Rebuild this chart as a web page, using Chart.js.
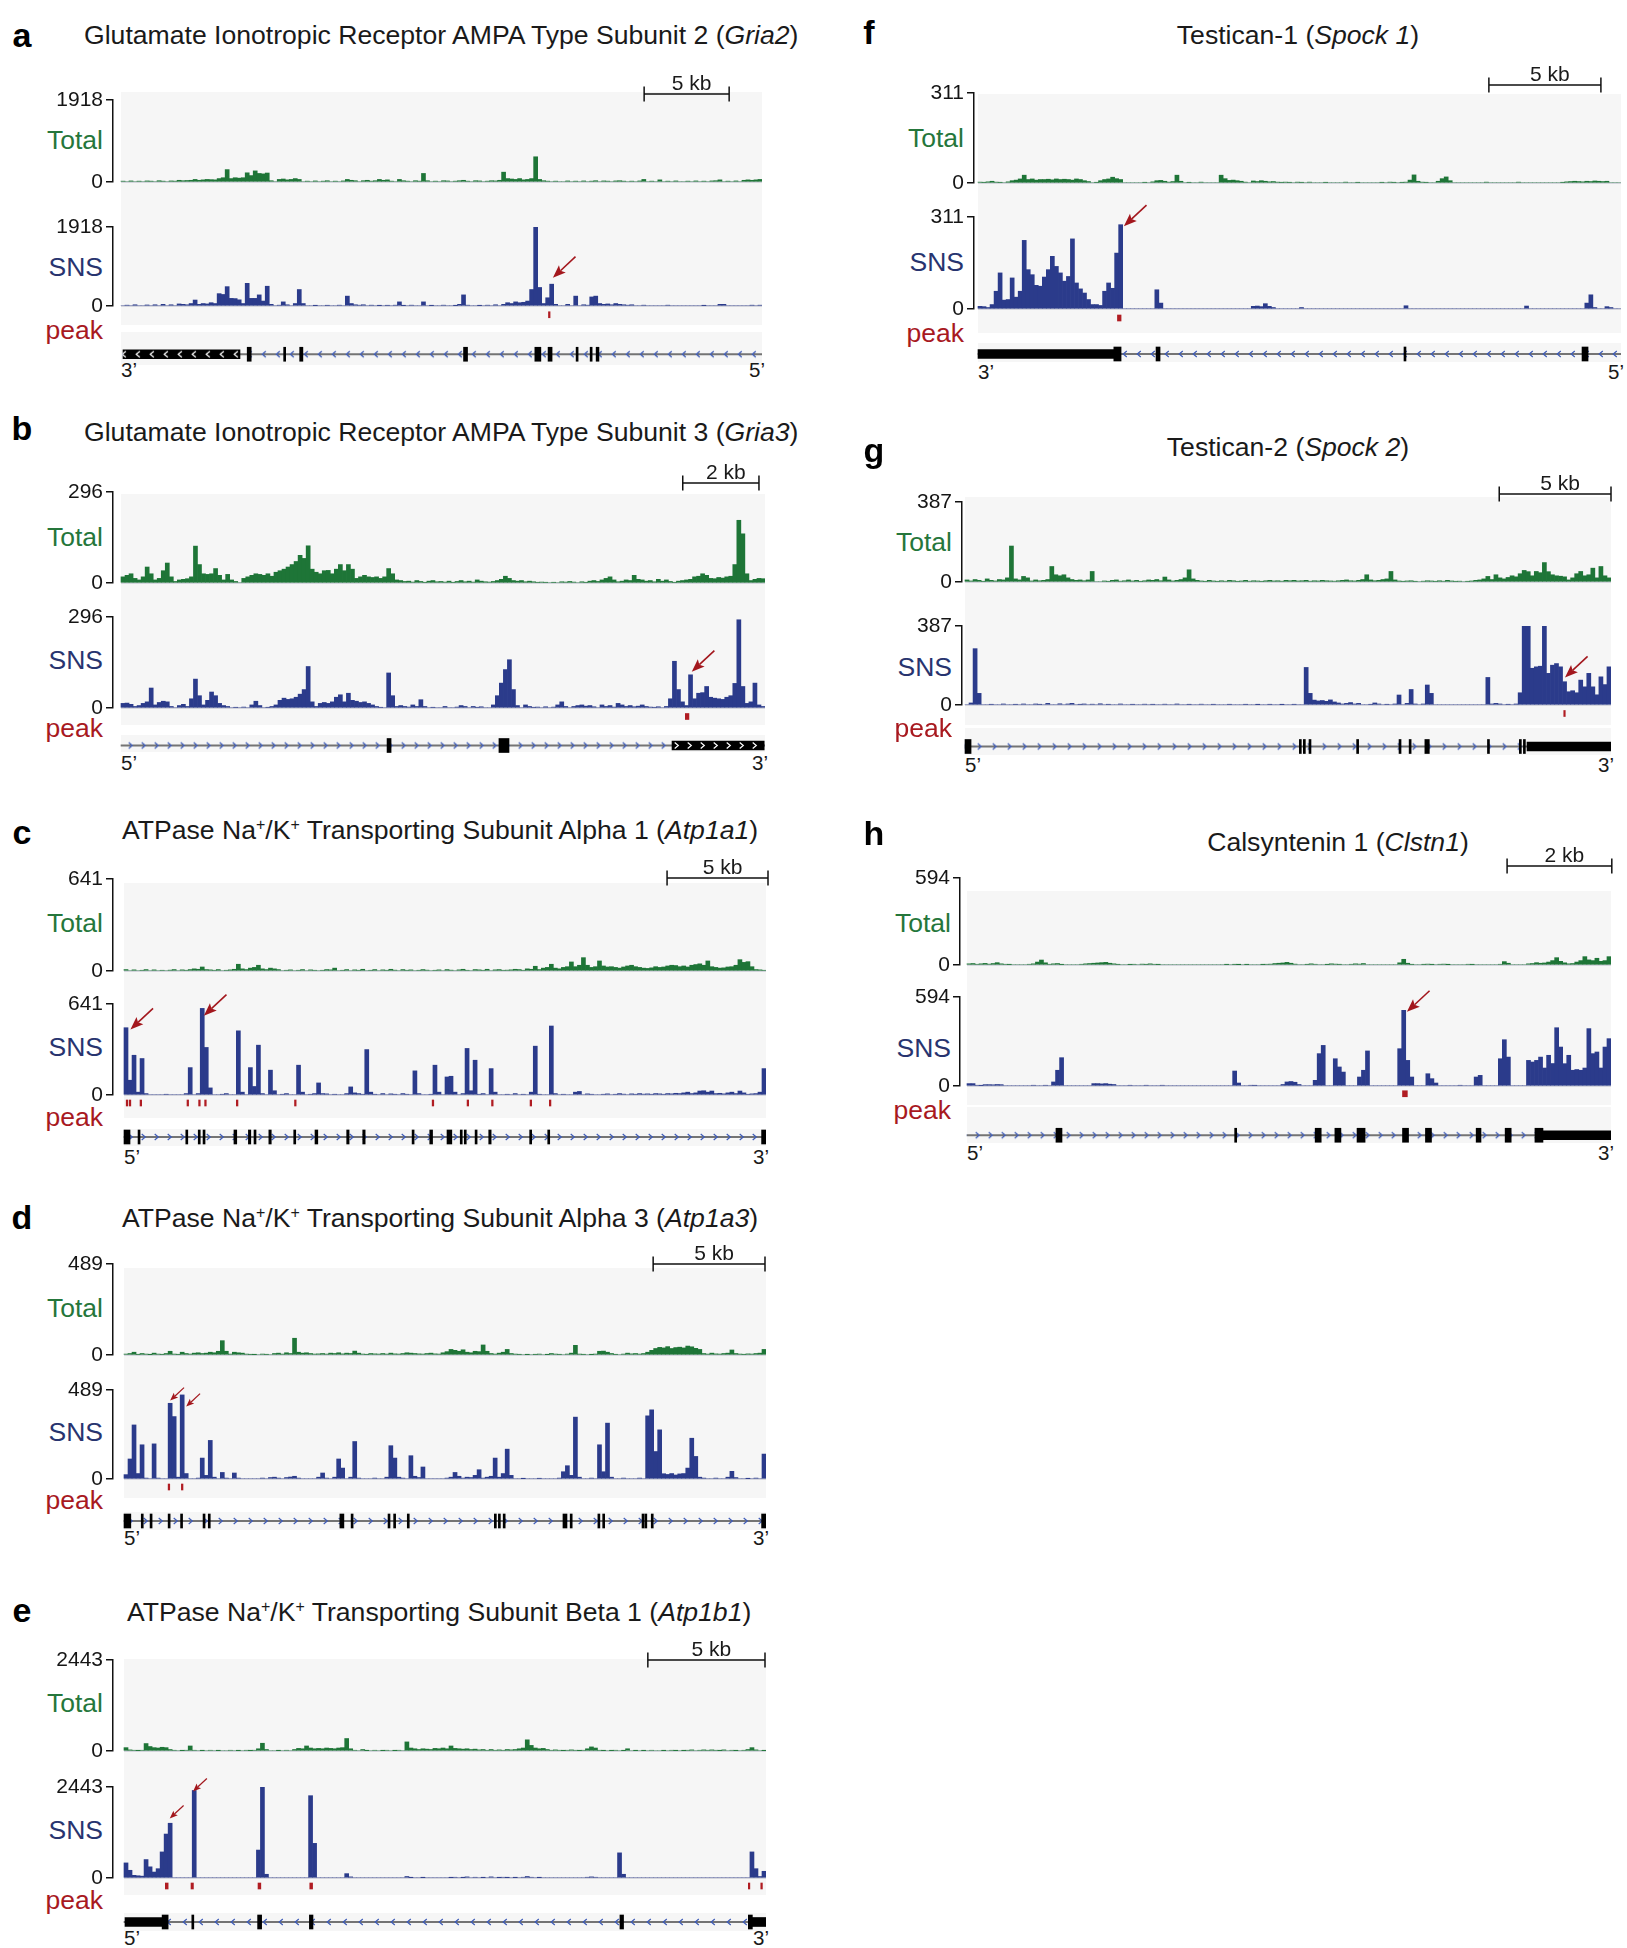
<!DOCTYPE html>
<html><head><meta charset="utf-8"><title>Coverage tracks</title>
<script src="https://cdn.jsdelivr.net/npm/chart.js@4.4.1/dist/chart.umd.min.js"></script>
<style>
html,body{margin:0;padding:0;background:#fff;}
body{width:1627px;height:1948px;position:relative;overflow:hidden;font-family:'Liberation Sans',Arial,Helvetica,sans-serif;}
.abs{position:absolute;white-space:nowrap;line-height:1;}
.letter{font-weight:bold;font-size:34px;color:#000;}
.title{font-size:26.6px;color:#1a1a1a;}
.title sup{font-size:0.6em;vertical-align:0.55em;line-height:0;}
.trk{font-size:26.5px;}
.end{font-size:20.5px;color:#1a1a1a;}
.sb{font-size:21px;color:#1a1a1a;}
canvas{position:absolute;}
</style></head><body>
<script>
const FONT = "'Liberation Sans', Arial, Helvetica, sans-serif";
const NB = 160, YW = 80;

// ---------------- DATA ----------------
const panelLetters = ['a','b','c','d','e','f','g','h'];
const geneTitles = [
 'Glutamate Ionotropic Receptor AMPA Type Subunit 2 (<i>Gria2</i>)',
 'Glutamate Ionotropic Receptor AMPA Type Subunit 3 (<i>Gria3</i>)',
 'ATPase Na<sup>+</sup>/K<sup>+</sup> Transporting Subunit Alpha 1 (<i>Atp1a1</i>)',
 'ATPase Na<sup>+</sup>/K<sup>+</sup> Transporting Subunit Alpha 3 (<i>Atp1a3</i>)',
 'ATPase Na<sup>+</sup>/K<sup>+</sup> Transporting Subunit Beta 1 (<i>Atp1b1</i>)',
 'Testican-1 (<i>Spock 1</i>)',
 'Testican-2 (<i>Spock 2</i>)',
 'Calsyntenin 1 (<i>Clstn1</i>)'
];
const yMax = [1918, 296, 641, 489, 2443, 311, 387, 594];
const scaleKb = [5, 2, 5, 5, 5, 5, 5, 2];
const spanKb = [37.7, 16.9, 31.8, 28.7, 27.4, 28.7, 28.9, 12.3];
const endLabels = [['3’','5’'],['5’','3’'],['5’','3’'],['5’','3’'],['5’','3’'],['3’','5’'],['5’','3’'],['5’','3’']];

const aTotal = [20,0,25,0,20,0,25,20,0,30,20,0,25,20,40,30,
35,40,60,40,50,60,55,50,80,100,290,80,100,90,100,215,
150,260,200,190,210,30,0,60,70,50,60,80,60,0,20,0,
25,0,20,30,0,20,0,25,60,40,30,0,30,40,20,30,
60,40,50,20,0,60,30,20,0,30,20,200,30,0,20,0,
30,25,0,20,30,40,20,0,30,25,0,20,30,25,40,230,
80,70,60,80,50,60,80,590,60,30,20,0,20,0,0,25,
0,20,0,25,0,20,30,0,25,20,0,25,30,20,0,20,
0,25,60,0,20,0,50,0,20,0,25,0,0,20,0,25,
0,20,0,25,30,50,0,20,0,25,0,40,50,40,50,60];
const aSNS = [0,20,0,30,0,0,25,0,30,0,40,0,30,0,50,40,
30,60,145,40,60,50,80,60,300,280,470,185,180,150,60,550,
185,185,270,120,480,40,0,20,100,30,0,60,400,60,0,0,
10,0,0,15,0,0,20,0,240,60,30,20,30,0,20,0,
10,0,15,0,20,100,10,0,20,0,0,100,0,10,0,0,
20,0,0,10,40,270,20,0,0,10,0,20,0,30,0,40,
80,60,100,80,90,120,400,1918,450,60,200,530,40,0,0,40,
0,240,0,30,20,220,240,60,40,50,30,60,40,30,20,30,
0,0,20,0,0,0,0,0,20,0,0,0,0,0,0,0,
0,10,0,0,0,40,40,0,0,0,0,0,0,20,0,20];

const bTotal = [20,25,30,15,10,20,52,30,10,15,40,65,20,5,10,12,
14,20,120,60,30,28,30,47,25,10,28,10,5,0,15,20,
25,30,28,25,30,22,35,40,45,52,60,70,90,80,121,45,
35,30,40,41,30,45,60,40,60,45,15,20,25,20,18,20,
15,20,47,30,10,8,5,6,3,8,5,2,6,8,4,5,
3,6,2,5,8,4,6,3,10,6,4,3,5,8,12,22,
15,8,6,8,4,6,4,2,3,2,0,2,0,4,3,5,
3,0,4,2,6,8,5,10,15,20,10,4,6,10,8,25,
12,10,6,8,4,12,6,10,5,2,6,8,10,12,20,22,
30,25,15,14,18,16,20,22,60,204,160,30,8,12,15,14];
const bSNS = [15,16,12,5,8,15,20,65,10,18,22,20,5,0,8,12,
5,30,94,40,10,25,52,40,15,8,5,0,2,0,3,0,
10,22,8,0,2,5,10,25,32,28,30,35,45,60,135,20,
5,15,18,15,20,35,43,20,48,25,22,18,20,15,10,5,
2,0,114,40,5,8,5,3,10,5,27,5,0,2,0,0,
5,0,0,3,8,5,0,5,2,4,0,0,10,40,81,125,
157,60,8,0,10,5,2,3,0,4,0,3,10,20,5,0,
5,8,10,6,8,4,0,10,5,8,3,15,10,5,8,4,
6,10,5,3,2,4,0,5,30,152,60,20,8,108,30,48,
50,70,35,32,30,28,35,40,80,287,70,15,20,81,10,5];

const cTotal = [10,0,8,0,5,10,0,8,0,5,0,6,10,0,8,5,
10,15,12,28,10,8,5,10,0,5,8,12,47,15,10,20,
25,40,15,10,20,15,10,0,5,8,0,5,10,0,8,5,
0,5,10,8,20,0,5,10,0,8,5,12,0,5,10,0,
8,5,12,6,0,10,5,8,0,5,10,6,0,5,8,0,
10,6,0,8,12,5,0,10,8,5,12,0,8,10,5,6,
8,12,10,5,15,12,33,10,20,25,47,20,15,25,30,63,
30,40,93,40,25,30,70,35,28,30,25,20,28,35,40,30,
25,20,18,22,30,25,28,35,40,38,30,35,28,40,45,50,
40,70,30,25,20,22,28,30,40,79,60,65,30,10,8,5];
const cSNS = [474,104,280,20,257,10,0,0,0,0,5,0,0,0,0,10,
193,0,10,610,335,50,0,0,5,10,0,0,452,20,0,193,
60,351,10,0,175,30,0,5,10,0,0,210,20,0,5,10,
85,10,8,0,5,0,0,10,57,15,10,5,320,20,5,0,
10,0,8,5,0,10,5,0,170,10,0,0,5,210,20,0,
127,132,20,0,10,328,30,245,5,10,0,186,20,0,0,5,
0,10,0,5,0,20,344,5,0,0,486,10,0,5,0,0,
20,25,0,8,5,0,0,5,8,0,5,10,6,0,8,5,
10,6,8,5,10,8,5,10,8,12,10,15,20,10,15,28,
30,20,28,10,12,8,15,20,10,28,15,5,8,10,20,186];

const dTotal = [5,8,15,3,8,5,2,10,5,3,8,20,5,3,15,8,
5,10,12,8,10,15,12,20,77,20,5,15,12,10,5,3,
2,0,5,3,0,8,10,5,12,8,90,15,10,12,8,5,
6,8,5,10,8,12,6,10,8,21,10,5,3,8,6,5,
8,5,10,6,5,8,12,10,8,6,5,8,10,6,5,12,
18,30,25,20,28,15,12,20,18,54,20,8,5,10,15,30,
8,5,3,0,2,0,3,5,0,2,8,5,3,0,5,10,
52,5,3,0,2,5,20,21,15,8,3,0,5,10,6,8,
5,8,15,25,35,41,38,45,35,40,42,38,48,44,36,30,
8,5,10,6,5,8,10,27,8,5,3,6,5,8,10,30];
const dSNS = [24,110,297,30,188,5,0,193,5,0,0,416,343,10,462,30,
0,0,5,115,20,212,10,0,36,5,0,33,5,0,0,0,
0,0,5,0,8,10,5,0,8,11,15,5,0,0,0,0,
10,33,5,0,10,110,60,0,10,206,5,0,0,0,5,0,
0,10,183,115,10,5,0,128,15,8,66,0,0,0,0,0,
5,10,36,15,5,10,8,20,51,5,10,15,115,10,30,164,
20,0,0,2,0,0,0,3,0,0,0,0,5,40,73,20,
340,10,0,0,5,0,188,40,307,10,0,0,5,0,0,0,
5,0,347,380,151,270,29,25,30,22,28,30,60,224,124,10,
5,0,0,5,0,0,10,42,8,0,0,2,0,5,0,137];

const eTotal = [90,30,20,10,20,200,120,90,80,100,90,40,20,0,10,20,
135,20,0,10,0,20,0,10,0,0,20,0,10,0,20,10,
20,60,208,40,0,0,10,0,20,0,40,70,60,135,80,60,
70,60,80,70,60,80,90,335,60,20,0,40,10,0,20,0,
10,20,0,10,20,0,244,80,60,40,60,50,40,70,60,80,
60,135,70,60,50,60,40,50,30,40,20,40,20,30,20,40,
30,40,60,80,300,150,80,60,70,40,20,30,20,10,20,30,
20,10,20,60,110,80,20,10,0,10,20,0,10,60,0,10,
0,10,0,20,0,0,10,0,20,10,0,10,20,30,0,20,
30,20,30,20,10,30,0,20,10,0,20,40,90,30,0,10];
const eSNS = [405,207,72,60,50,495,300,160,250,700,1180,1470,0,0,0,0,
0,2350,0,0,0,0,0,0,0,0,0,0,0,0,0,0,
0,750,2440,100,0,0,0,0,0,0,0,0,0,0,2210,930,
0,0,0,0,0,0,0,117,30,0,0,0,0,0,0,0,
0,0,0,0,0,0,40,10,0,0,10,0,0,0,0,0,
0,10,20,0,10,30,0,20,0,10,0,30,0,10,20,10,
0,10,0,20,40,20,0,10,0,0,0,0,0,0,0,0,
0,0,0,20,30,20,0,0,0,0,0,675,100,0,0,0,
0,0,0,0,0,0,0,0,0,0,0,0,0,0,0,0,
0,0,0,0,0,0,0,0,0,0,0,0,700,250,40,180];

const fTotal = [3,2,4,6,3,2,0,4,8,10,14,27,12,14,10,12,
12,13,11,14,12,13,12,10,14,12,8,5,0,2,8,12,
14,20,15,12,0,0,0,0,0,2,0,4,8,9,6,3,
5,27,6,0,2,0,0,3,0,0,0,0,27,15,9,10,
8,6,3,0,7,5,8,6,4,5,3,2,3,2,0,3,
2,0,3,0,0,0,2,0,0,0,0,3,0,0,2,0,
0,0,0,0,2,0,3,2,0,2,3,10,28,6,3,2,
0,0,6,15,21,8,0,0,0,0,0,0,0,0,3,0,
0,0,0,0,0,0,3,0,0,0,0,0,0,0,0,0,
0,2,4,5,6,5,4,6,5,7,6,5,6,0,0,0];
const fSNS = [9,8,5,15,60,122,30,32,105,40,60,232,133,116,80,77,
108,133,178,144,122,94,110,237,88,68,54,32,15,15,12,60,
88,70,189,285,0,0,0,0,0,0,0,0,65,20,0,0,
0,0,0,0,0,0,0,0,0,0,0,0,0,0,0,0,
0,0,0,0,9,10,8,18,9,5,0,0,0,0,0,0,
5,0,0,0,0,0,0,0,0,0,0,0,0,0,0,0,
0,0,0,0,0,0,0,0,0,0,11,0,0,0,0,0,
0,0,0,0,0,0,0,0,0,0,0,0,0,0,0,0,
0,0,0,0,0,0,0,0,10,0,0,0,0,0,0,0,
0,0,0,0,0,0,0,20,48,5,0,0,8,5,0,0];

const gTotal = [10,5,12,8,3,15,8,5,12,10,20,174,15,10,27,20,
5,10,6,8,12,75,35,30,35,20,12,8,10,6,10,51,
0,0,5,3,8,10,4,6,10,5,8,3,6,10,8,12,
6,24,10,5,8,12,20,59,15,8,5,3,8,5,3,6,
4,8,6,3,5,8,4,6,5,3,6,8,5,6,4,8,
6,8,5,6,8,4,6,5,8,6,5,4,6,8,10,6,
5,8,12,35,10,6,8,12,15,51,10,5,3,5,6,3,
0,4,6,5,3,6,4,8,5,3,4,0,3,5,8,10,
15,27,12,35,20,15,22,30,25,40,56,50,30,51,45,94,
50,35,30,28,25,10,20,40,51,30,35,67,20,75,30,20];
const gSNS = [0,10,276,57,0,0,3,0,0,5,0,0,3,0,5,0,
0,5,3,0,8,0,0,6,0,5,8,0,3,5,0,4,
0,6,0,3,0,0,5,0,0,3,0,0,4,0,3,0,
0,4,0,0,5,0,0,3,0,0,4,0,0,3,0,0,
0,3,0,0,0,3,0,0,2,0,0,3,0,0,2,0,
0,3,0,0,184,57,24,20,22,18,25,15,10,5,8,12,
5,8,0,0,3,10,5,0,3,0,5,49,0,8,76,5,
0,5,98,57,0,0,0,0,0,0,0,0,0,0,0,0,
0,135,5,8,5,0,3,0,5,60,387,387,180,187,190,387,
155,195,203,187,114,65,70,60,122,89,155,89,50,138,100,187];

const hTotal = [8,10,5,8,11,6,10,16,8,5,3,0,0,0,0,5,
8,20,34,15,5,8,10,3,0,0,0,0,5,8,10,12,
14,16,18,12,8,4,0,0,3,5,0,6,4,8,5,3,
0,0,0,0,0,0,0,0,0,0,0,0,0,0,0,0,
3,0,4,2,0,3,0,0,0,3,5,6,10,12,14,18,
12,6,0,0,4,8,5,0,0,3,8,6,4,0,0,5,
8,6,10,0,0,0,0,0,0,0,0,15,39,12,4,0,
0,4,6,3,0,5,6,2,0,0,0,0,5,3,0,0,
0,0,0,0,5,23,12,0,0,0,0,8,10,16,12,14,
20,30,50,25,15,8,10,20,30,57,35,30,46,25,30,57];
const hSNS = [16,16,5,3,9,9,8,10,9,0,0,0,0,0,0,0,
5,0,0,5,0,27,105,189,0,0,0,0,0,0,0,16,
16,14,16,12,10,0,0,0,5,0,0,0,5,0,0,0,
5,0,0,0,0,0,0,0,0,0,0,0,0,0,0,0,
0,0,100,20,0,0,5,4,0,0,0,0,0,0,10,27,
30,25,10,0,0,0,38,216,271,0,0,182,127,93,0,0,
0,60,105,234,0,0,0,0,0,0,0,249,505,171,60,0,
0,0,82,49,20,0,0,0,0,0,5,0,0,0,60,71,
0,0,0,0,182,309,193,0,0,0,0,171,160,171,193,120,
205,150,389,260,149,205,105,110,105,120,383,216,227,120,260,316];

// peak calls [start, end] in bins
const aPeaks = [[106.7,107.1]];
const bPeaks = [[140.2,141.1]];
const cPeaks = [[0.55,0.95],[1.3,1.7],[4.0,4.4],[15.7,16.1],[18.6,19.0],[20.1,20.5],[28.0,28.4],[42.5,42.9],[76.8,77.2],[85.5,85.9],[91.6,92.0],[101.2,101.6],[106.0,106.4]];
const dPeaks = [[11.0,11.4],[14.3,14.7]];
const ePeaks = [[10.3,11.0],[16.7,17.3],[33.4,34.1],[46.3,47.0],[155.6,155.9],[158.7,159.1]];
const fPeaks = [[34.7,35.6]];
const gPeaks = [[148.3,148.6]];
const hPeaks = [[108.2,109.4]];

// gene models [start, end] in bins
const aExons = [[31.5,32.5],[40.6,41.0],[44.6,45.4],[85.5,86.5],[103.3,104.8],[106.6,107.6],[113.6,114.0],[117.1,117.6],[118.6,119.3]];
const aUTR = [[0.5,29.7]];
const bExons = [[66.1,67.1],[93.9,96.4]];
const bUTR = [[136.9,159.8]];
const cExons = [[0,1.5],[3.5,4.0],[15.4,15.9],[18.5,19.0],[19.7,20.2],[27.4,28.1],[31.0,31.6],[32.4,32.9],[36.1,36.7],[42.3,42.8],[47.6,48.3],[55.5,56.1],[59.5,60.1],[71.8,72.2],[76.2,76.9],[80.5,81.7],[83.8,84.2],[84.8,85.2],[87.5,87.9],[90.9,91.5],[101.1,101.4],[105.6,106.1],[158.9,160]];
const cUTR = [];
const dExons = [[0,1.7],[4.3,4.7],[6.5,6.9],[11.0,11.4],[14.1,14.5],[19.7,20.1],[21.0,21.4],[53.8,54.8],[56.6,57.0],[65.8,66.2],[67.2,67.6],[70.6,71.1],[92.3,92.7],[93.3,93.7],[94.5,94.9],[109.4,110.4],[111.2,111.6],[118.1,118.5],[119.3,119.7],[129.1,129.5],[129.8,130.1],[131.4,131.8],[158.9,160]];
const dUTR = [];
const eExons = [[9.5,11.0],[16.9,17.1],[33.3,34.3],[46.2,47.1],[123.6,124.5],[155.6,156.6]];
const eUTR = [[0.25,9.6],[156.5,160]];
const fExons = [[33.8,35.6],[44.3,45.3],[106.0,106.3],[150.3,151.8]];
const fUTR = [[0,33.8]];
const gExons = [[0,1.5],[82.8,83.1],[83.8,84.1],[85.2,85.6],[97.0,97.3],[107.5,107.9],[110.0,110.4],[113.9,115.0],[129.4,129.7],[137.3,137.7],[138.3,138.7]];
const gUTR = [[139.2,160]];
const hExons = [[22.1,23.6],[66.5,66.8],[86.5,88.0],[91.4,92.9],[96.9,98.9],[108.2,109.7],[113.9,115.4],[126.5,127.7],[133.7,135.2],[141.1,143.1]];
const hUTR = [[143.1,160]];
const introns = [[0.5,160],[0,160],[0,160],[0,160],[0,160],[0,160],[0,160],[0,160]];

// arrow tips [bin, value]
const aArrows = [[107.8,685]];
const bArrows = [[141.8,118]];
const cArrows = [[1.6,462],[19.9,559]];
const dArrows = [[11.5,431],[15.5,398]];
const eArrows = [[11.4,1600],[17.2,2325]];
const fArrows = [[36.3,280]];
const gArrows = [[148.6,135]];
const hArrows = [[109.3,495]];

const totals = [aTotal,bTotal,cTotal,dTotal,eTotal,fTotal,gTotal,hTotal];
const snss = [aSNS,bSNS,cSNS,dSNS,eSNS,fSNS,gSNS,hSNS];
const peakLists = [aPeaks,bPeaks,cPeaks,dPeaks,ePeaks,fPeaks,gPeaks,hPeaks];
const exonLists = [aExons,bExons,cExons,dExons,eExons,fExons,gExons,hExons];
const utrLists = [aUTR,bUTR,cUTR,dUTR,eUTR,fUTR,gUTR,hUTR];
const arrowLists = [aArrows,bArrows,cArrows,dArrows,eArrows,fArrows,gArrows,hArrows];

// ---------------- LAYOUT (page pixels / styles) ----------------
const LAYOUT = [
 {letter:[22,35], title:{x:84,y:35,anchor:'left'}, axisX:113, plotL:121, plotR:762, tot:[100,182], sns:[227,306], peakY:314.5, geneY:354, bg:[92,325], gbg:[332,365], lab:{r:103,total:140,sns:267,peak:330}, endY:370, sbEnd:151.8, sbY:94, chev:{dir:-1,sp:13.5}, utrChev:-1, arrowLen:31},
 {letter:[22,428], title:{x:84,y:432,anchor:'left'}, axisX:113, plotL:121, plotR:765, tot:[492,583], sns:[617,708], peakY:716, geneY:745, bg:[494,725], gbg:[735,752], lab:{r:103,total:537,sns:660,peak:728}, endY:763, sbEnd:158.5, sbY:483, chev:{dir:1,sp:13.4}, utrChev:1, arrowLen:31},
 {letter:[22,832], title:{x:122,y:830,anchor:'left'}, axisX:113, plotL:124, plotR:766, tot:[879,971], sns:[1004,1095], peakY:1103, geneY:1137, bg:[883,1118], gbg:[1129,1146], lab:{r:103,total:923,sns:1047,peak:1117}, endY:1157, sbEnd:160.5, sbY:878, chev:{dir:1,sp:12.5}, utrChev:0, arrowLen:31},
 {letter:[22,1217], title:{x:122,y:1218,anchor:'left'}, axisX:113, plotL:124, plotR:766, tot:[1264,1355], sns:[1390,1479], peakY:1487, geneY:1521, bg:[1268,1498], gbg:[1512,1530], lab:{r:103,total:1308,sns:1432,peak:1500}, endY:1538, sbEnd:159.75, sbY:1264, chev:{dir:1,sp:15}, utrChev:0, arrowLen:19},
 {letter:[22,1610], title:{x:127,y:1612,anchor:'left'}, axisX:113, plotL:124, plotR:766, tot:[1660,1751], sns:[1787,1878], peakY:1886, geneY:1922, bg:[1659,1895], gbg:[1913,1931], lab:{r:103,total:1703,sns:1830,peak:1900}, endY:1938, sbEnd:159.75, sbY:1660, chev:{dir:-1,sp:15.7}, utrChev:0, arrowLen:19},
 {letter:[869,32], title:{x:1298,y:35,anchor:'center'}, axisX:974, plotL:978, plotR:1621, tot:[93,183], sns:[217,309], peakY:318, geneY:354, bg:[94,333], gbg:[343,362], lab:{r:964,total:138,sns:262,peak:333}, endY:372, sbEnd:155.0, sbY:85, chev:{dir:-1,sp:13.6}, utrChev:0, arrowLen:31},
 {letter:[874,450], title:{x:1288,y:447,anchor:'center'}, axisX:962, plotL:965, plotR:1611, tot:[502,582], sns:[626,705], peakY:713, geneY:746, bg:[497,725], gbg:[728,755], lab:{r:952,total:542,sns:667,peak:728}, endY:765, sbEnd:160, sbY:494, chev:{dir:1,sp:14.5}, utrChev:0, arrowLen:31},
 {letter:[874,833], title:{x:1338,y:842,anchor:'center'}, axisX:960, plotL:967, plotR:1611, tot:[878,965], sns:[997,1086], peakY:1093.5, geneY:1135, bg:[891,1105], gbg:[1107,1143], lab:{r:951,total:923,sns:1048,peak:1110}, endY:1153, sbEnd:160.2, sbY:866, chev:{dir:1,sp:13.4}, utrChev:0, arrowLen:31}
];
const COL = {total:'#1e7537', sns:'#2b3b8b', peak:'#b01c22', arrow:'#a3171d', totalLab:'#25763b', snsLab:'#28346f', peakLab:'#a8191f', bg:'#f6f6f6'};

// ---------------- helpers ----------------
function el(tag, cls, html, style){ const d=document.createElement(tag); if(cls) d.className=cls; if(html!=null) d.innerHTML=html; Object.assign(d.style, style||{}); document.body.appendChild(d); return d; }
function text(html, x, y, cls, anchor, color){
  const tx = anchor==='right' ? '-100%' : anchor==='center' ? '-50%' : '0';
  const st = {left:x+'px', top:y+'px', transform:'translate('+tx+',-50%)'};
  if(color) st.color = color;
  return el('div', 'abs '+cls, html, st);
}
function rect(x,y,w,h,color){ return el('div','abs',null,{left:x+'px',top:y+'px',width:w+'px',height:h+'px',background:color}); }
function makeCanvas(left, top, w, h){ const c=document.createElement('canvas'); c.width=Math.round(w); c.height=Math.round(h); c.style.left=Math.round(left)+'px'; c.style.top=Math.round(top)+'px'; document.body.appendChild(c); return c; }

function chevronTile(dir, sp, th, lineCol, chevCol, bgCol){
  const c = document.createElement('canvas');
  c.width = Math.round(sp); c.height = th;
  const g = c.getContext('2d');
  if (bgCol){ g.fillStyle = bgCol; g.fillRect(0,0,c.width,th); }
  if (lineCol){ g.fillStyle = lineCol; g.fillRect(0, th/2-0.75, c.width, 1.5); }
  g.strokeStyle = chevCol; g.lineWidth = 1.2;
  const cx = c.width/2, cy = th/2, w = 1.8, h = 3;
  g.beginPath();
  g.moveTo(cx - dir*w, cy - h); g.lineTo(cx + dir*w, cy); g.lineTo(cx - dir*w, cy + h);
  g.stroke();
  return c;
}

function yAxis(max){
  return {
    type:'linear', min:0, max:max, position:'left',
    afterBuildTicks: s => { s.ticks = [{value:0},{value:max}]; },
    afterFit: s => { s.width = YW; s.paddingTop = 0; s.paddingBottom = 0; },
    ticks:{ callback: v => String(v), font:{family:FONT, size:21}, color:'#151515', padding:3, autoSkip:false, maxRotation:0 },
    grid:{ display:true, drawOnChartArea:false, drawTicks:true, tickLength:7, color:'#111', lineWidth:1.5 },
    border:{ display:true, color:'#111', width:1.5 }
  };
}

const baselinePlugin = {
  id:'baseline',
  beforeDatasetsDraw(chart){
    const {ctx, scales:{x,y}} = chart;
    const yy = y.getPixelForValue(0);
    ctx.save(); ctx.strokeStyle = '#c9cad4'; ctx.lineWidth = 1.3;
    ctx.beginPath(); ctx.moveTo(x.getPixelForValue(0), yy); ctx.lineTo(x.getPixelForValue(NB), yy); ctx.stroke();
    ctx.restore();
  }
};
const arrowPlugin = {
  id:'arrows',
  afterDatasetsDraw(chart, args, o){
    if(!o || !o.list) return;
    const {ctx, scales:{x,y}} = chart;
    const len = o.len, ux = 0.73, uy = -0.68;
    const big = len > 25;
    const hl = big ? 13 : 8, hw = big ? 5 : 3.2;
    ctx.save(); ctx.fillStyle = COL.arrow; ctx.strokeStyle = COL.arrow; ctx.lineWidth = big ? 1.6 : 1.2;
    o.list.forEach(([b, v]) => {
      const tx = x.getPixelForValue(b), ty = y.getPixelForValue(v);
      ctx.beginPath(); ctx.moveTo(tx+ux*hl*0.8, ty+uy*hl*0.8); ctx.lineTo(tx+ux*len, ty+uy*len); ctx.stroke();
      ctx.beginPath(); ctx.moveTo(tx, ty);
      ctx.lineTo(tx+ux*hl - uy*hw, ty+uy*hl + ux*hw);
      ctx.lineTo(tx+ux*hl*0.8, ty+uy*hl*0.8);
      ctx.lineTo(tx+ux*hl + uy*hw, ty+uy*hl - ux*hw);
      ctx.closePath(); ctx.fill();
    });
    ctx.restore();
  }
};
const scaleBarPlugin = {
  id:'scalebar',
  afterDraw(chart, args, o){
    if(!o || o.kb==null) return;
    const {ctx, scales:{x}, chartArea} = chart;
    const x2 = x.getPixelForValue(o.end), x1 = x.getPixelForValue(o.end - NB*o.kb/o.span);
    const yy = chartArea.top - o.dy;
    ctx.save(); ctx.strokeStyle = '#111'; ctx.lineWidth = 1.5;
    ctx.beginPath();
    ctx.moveTo(x1, yy); ctx.lineTo(x2, yy);
    ctx.moveTo(x1, yy-7.5); ctx.lineTo(x1, yy+7.5);
    ctx.moveTo(x2, yy-7.5); ctx.lineTo(x2, yy+7.5);
    ctx.stroke(); ctx.restore();
  }
};

Chart.defaults.font.family = FONT;

LAYOUT.forEach((P, i) => {
  const pxPerBin = (P.plotR - P.plotL) / NB;
  const gap = (P.plotL - P.axisX) / pxPerBin;
  const left = P.axisX - YW;
  const cw = P.plotR - left + 6;

  rect(P.plotL, P.bg[0], P.plotR - P.plotL, P.bg[1] - P.bg[0], COL.bg);
  rect(P.plotL, P.gbg[0], P.plotR - P.plotL, P.gbg[1] - P.gbg[0], COL.bg);

  text(panelLetters[i], P.letter[0], P.letter[1], 'letter', 'center');
  text(geneTitles[i], P.title.x, P.title.y, 'title', P.title.anchor);
  text('Total', P.lab.r, P.lab.total, 'trk', 'right', COL.totalLab);
  text('SNS', P.lab.r, P.lab.sns, 'trk', 'right', COL.snsLab);
  text('peak', P.lab.r, P.lab.peak, 'trk', 'right', COL.peakLab);
  text(endLabels[i][0], P.plotL, P.endY, 'end', 'left');
  text(endLabels[i][1], P.plotR + 3, P.endY, 'end', 'right');

  function cov(values, color, yTop, yZero, padTop, pluginOpts){
    const top = Math.round(yTop - padTop);
    const h = Math.round(yZero + 13) - top;
    const cv = makeCanvas(left, top, cw, h);
    return new Chart(cv, {
      type:'bar',
      data:{ datasets:[{ data: values.map((v,k)=>({x:k+0.5, y:v})), backgroundColor:color, barPercentage:1, categoryPercentage:1, borderWidth:0 }] },
      options:{
        responsive:false, animation:false, events:[],
        layout:{ padding:{ top: yTop - top, bottom: h - (yZero - top), left:0, right:6 } },
        plugins: Object.assign({ legend:{display:false}, tooltip:{enabled:false} }, pluginOpts),
        scales:{ x:{ type:'linear', min:-gap, max:NB, offset:false, display:false }, y: yAxis(yMax[i]) }
      },
      plugins:[baselinePlugin, arrowPlugin, scaleBarPlugin]
    });
  }

  const tc = cov(totals[i], COL.total, P.tot[0], P.tot[1], 34,
    { scalebar:{ end:P.sbEnd, kb:scaleKb[i], span:spanKb[i], dy:P.tot[0]-P.sbY } });
  cov(snss[i], COL.sns, P.sns[0], P.sns[1], 26, { arrows:{ list:arrowLists[i], len:P.arrowLen } });

  const xs = tc.scales.x;
  const cx = left + (xs.getPixelForValue(P.sbEnd) + xs.getPixelForValue(P.sbEnd - NB*scaleKb[i]/spanKb[i])) / 2 + 5;
  text(scaleKb[i] + ' kb', cx, P.sbY - 12, 'sb', 'center');

  // peak + gene model chart
  const hh = Math.round(2 * (P.geneY - P.peakY));
  const gtop = Math.round(P.peakY - hh/4);
  const gcv = makeCanvas(left, gtop, cw, hh);
  const gctx = gcv.getContext('2d');
  const geneCy = hh * 0.75;
  const intronPat = gctx.createPattern(chevronTile(P.chev.dir, P.chev.sp, 10, '#4a4a4a', '#3d5bb8', null), 'repeat');
  intronPat.setTransform(new DOMMatrix([1,0,0,1,0,geneCy-5]));
  let utrFill = '#000';
  if (P.utrChev) {
    utrFill = gctx.createPattern(chevronTile(P.utrChev, P.chev.sp, 9, null, '#ffffff', '#000000'), 'repeat');
    utrFill.setTransform(new DOMMatrix([1,0,0,1,0,geneCy-4.5]));
  }
  new Chart(gcv, {
    type:'bar',
    data:{ labels:['peak','gene'], datasets:[
      { data: peakLists[i].map(p=>({y:'peak', x:p})), backgroundColor:COL.peak, barThickness:6, grouped:false, minBarLength:1.5, order:0 },
      { data: exonLists[i].map(p=>({y:'gene', x:p})), backgroundColor:'#000', barThickness:14, grouped:false, minBarLength:2, order:1 },
      { data: utrLists[i].map(p=>({y:'gene', x:p})), backgroundColor:utrFill, barThickness:9, grouped:false, order:2 },
      { data: [{y:'gene', x:introns[i]}], backgroundColor:intronPat, barThickness:10, grouped:false, order:3 }
    ]},
    options:{
      indexAxis:'y', responsive:false, animation:false, events:[],
      layout:{ padding:{ left:YW, right:6, top:0, bottom:0 } },
      plugins:{ legend:{display:false}, tooltip:{enabled:false} },
      scales:{ y:{ type:'category', display:false, offset:true }, x:{ type:'linear', min:-gap, max:NB, display:false } }
    }
  });
});
</script>
</body></html>
